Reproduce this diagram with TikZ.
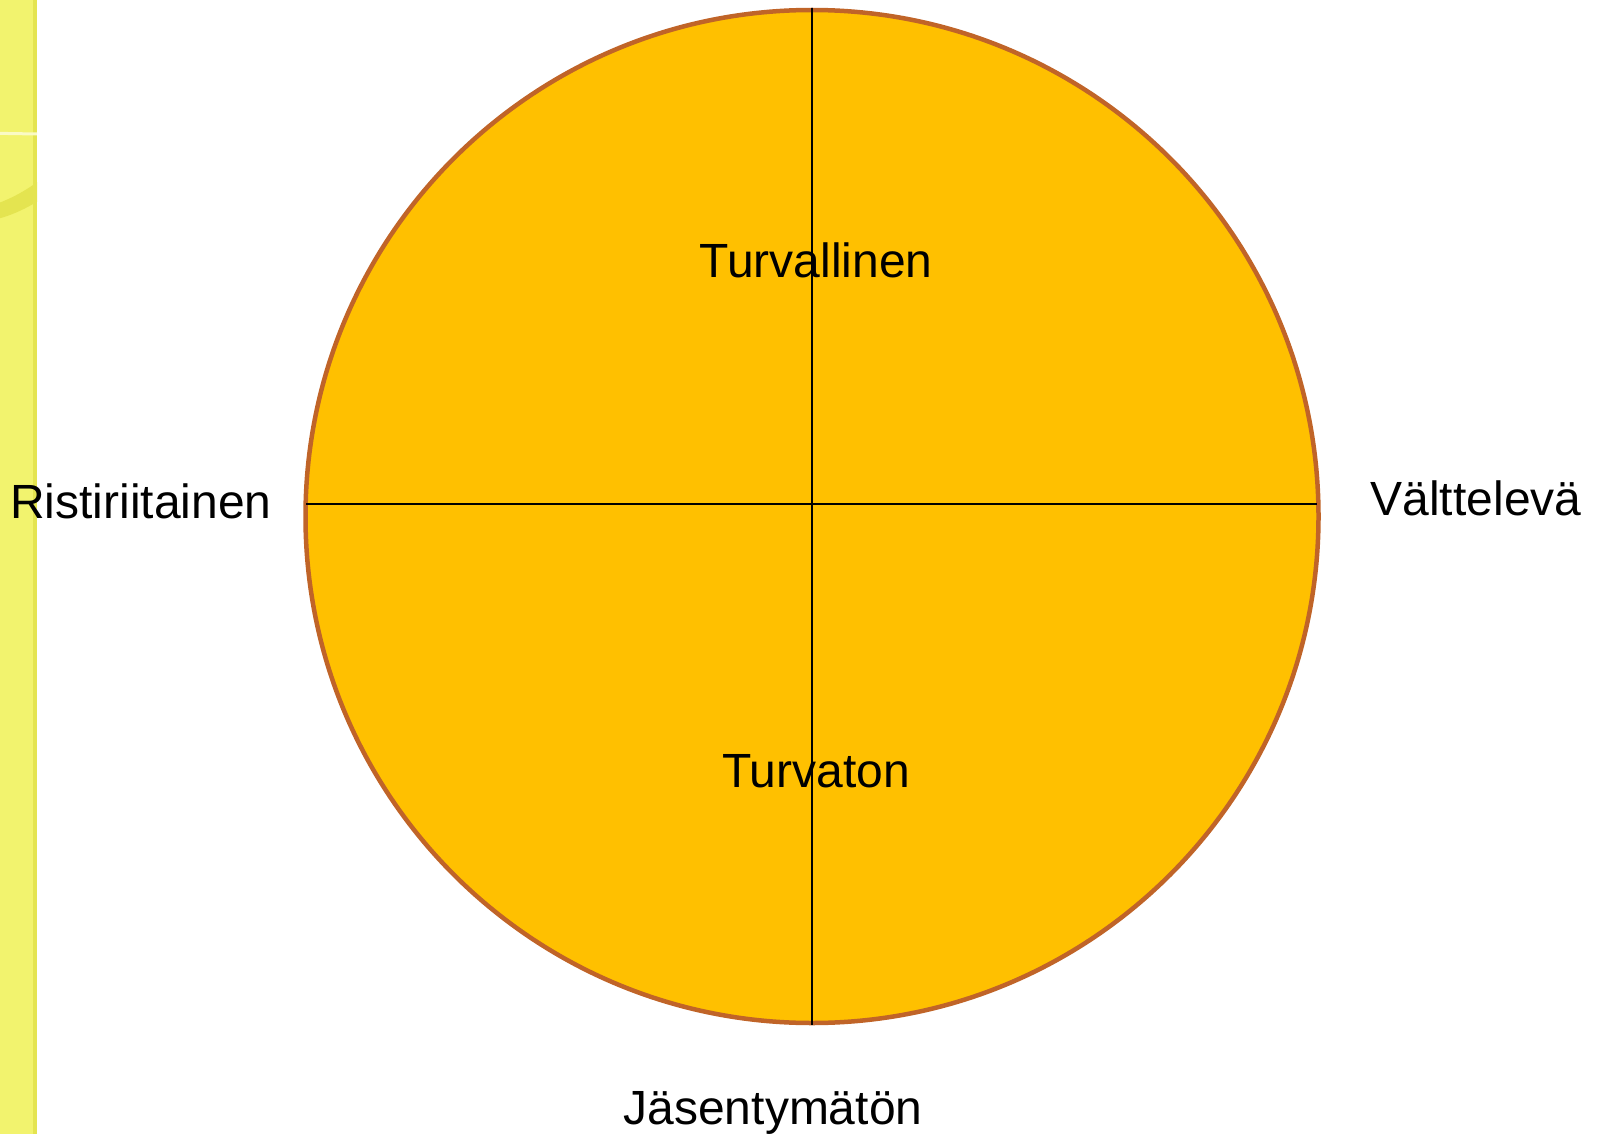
\documentclass[tikz,border=0pt]{standalone}
\usepackage{fontspec}
\setmainfont{Liberation Sans}
\definecolor{strip}{RGB}{242,243,110}
\definecolor{stripdark}{RGB}{228,228,80}
\definecolor{discfill}{RGB}{255,192,0}
\definecolor{discedge}{RGB}{192,100,40}
\tikzset{
  lbl/.style={font=\fontsize{48}{56}\selectfont, anchor=base, inner sep=0pt},
  axis/.style={draw=black, line width=2pt}
}
\begin{document}
\begin{tikzpicture}[x=1pt,y=-1pt]
\useasboundingbox (0,0) rectangle (1601,1134);
% left decorative strip
\fill[strip] (0,0) rectangle (37,1134);
\fill[stripdark] (33,0) rectangle (37,1134);
\begin{scope}
\clip (0,0) rectangle (37,1134);
\draw[stripdark, line width=2pt] (-60,-20) arc[start angle=120, end angle=60, radius=100];
\draw[white!60!strip, line width=3pt] (-80,132) -- (37,134);
\fill[stripdark] (-40,215) .. controls (0,205) and (20,195) .. (40,180) -- (40,200) .. controls (20,212) and (0,222) .. (-40,225) -- cycle;
\end{scope}
% disc
\node[circle, draw=discedge, fill=discfill, line width=4.5pt, minimum size=1013pt, inner sep=0pt] (disc) at (812,516.5) {};
\coordinate (l) at (306,504);
\coordinate (r) at (1317,504);
\path (disc.north) coordinate (t);
\path (disc.south) coordinate (b);
\draw[axis] (l) -- (r);
\draw[axis] (t) -- (b);
% labels
\node[lbl] (top) at (816,277) {Turvallinen};
\node[lbl] (bot) at (816,787) {Turvaton};
\node[lbl] (left) at (141,518) {Ristiriitainen};
\node[lbl] (right) at (1476,515) {Välttelevä};
\node[lbl] (under) at (773,1124) {Jäsentymätön};
\end{tikzpicture}
\end{document}
